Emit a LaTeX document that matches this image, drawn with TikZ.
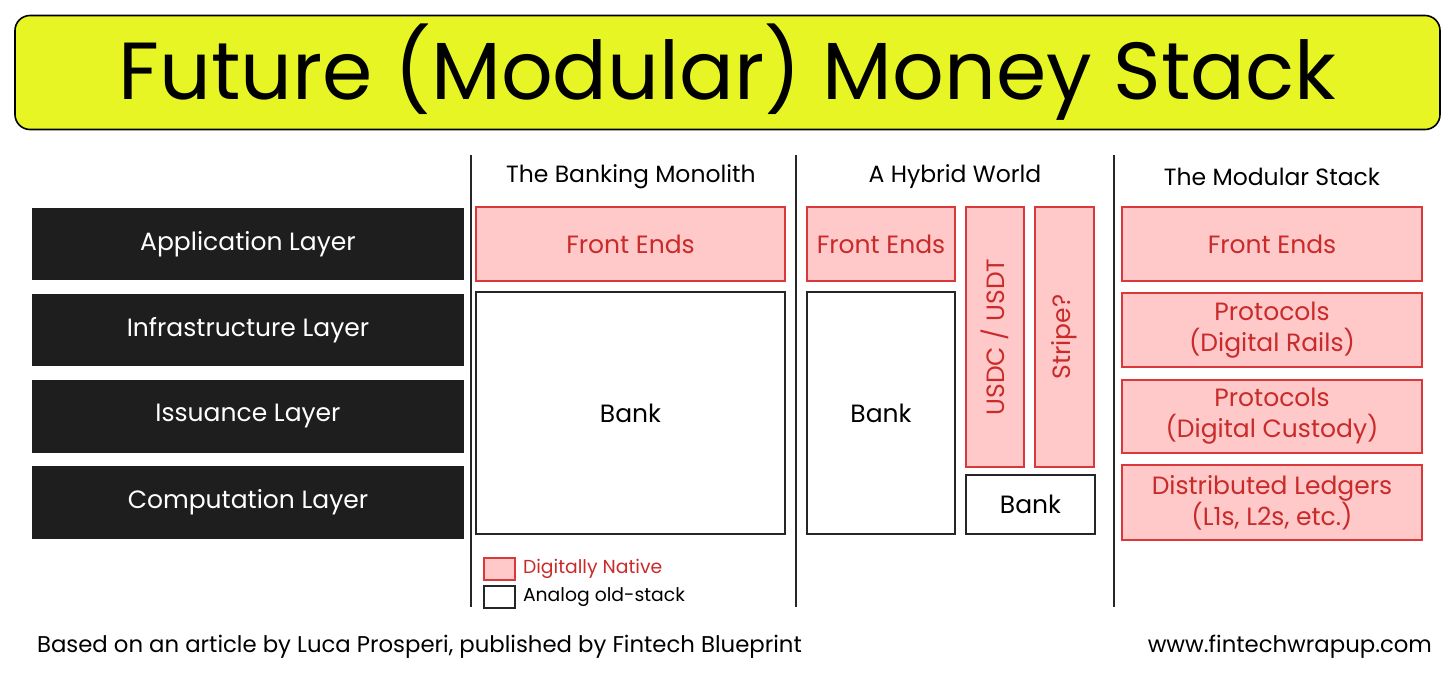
\documentclass[tikz,border=0pt]{standalone}
\usepackage{fontspec}
\setmainfont{Poppins}
\usetikzlibrary{positioning}
\definecolor{titleyel}{HTML}{E6F523}
\definecolor{digfill}{HTML}{FFC9C9}
\definecolor{digline}{HTML}{D9393B}
\definecolor{digtext}{HTML}{C92A2A}
\definecolor{layblack}{HTML}{1E1E1E}

\begin{document}
\begin{tikzpicture}[x=1pt, y=-1pt, line width=1.4pt,
  txt/.style={font=\fontsize{25}{31}\selectfont},
  box/.style={draw=black!85, align=center, inner sep=2pt, txt},
  dig/.style={box, draw=digline, fill=digfill, text=digtext},
  ana/.style={box, draw=black!85, fill=white, text=black},
  lay/.style={box, draw=layblack, fill=layblack, text=white,
              minimum width=430pt, minimum height=71pt},
  hd/.style={font=\fontsize{23.5}{28}\selectfont},
  key/.style={font=\fontsize{18.8}{22}\selectfont, anchor=west},
  foot/.style={font=\fontsize{22.8}{27}\selectfont},
  sep/.style={draw=black!85, line width=1.6pt}]
\useasboundingbox (0,0) rectangle (1456,678);
% title
\node[draw=black, line width=1.6pt, fill=titleyel, rounded corners=15pt,
      minimum width=1425pt, minimum height=114pt,
      font=\fontsize{81}{88}\selectfont] (title) at (727.5,72.5) {Future (Modular) Money Stack};
% layers
\node[lay] (app) at (248,244) {Application Layer};
\node[lay] (infra) at (248,330) {Infrastructure Layer};
\node[lay] (iss) at (248,416.5) {Issuance Layer};
\node[lay] (comp) at (248,502.5) {Computation Layer};
% separators
\coordinate (s1t) at (471,155); \coordinate (s1b) at (471,607);
\coordinate (s2t) at (796,155); \coordinate (s2b) at (796,607);
\coordinate (s3t) at (1114,155); \coordinate (s3b) at (1114,607);
\draw[sep] (s1t) -- (s1b); \draw[sep] (s2t) -- (s2b); \draw[sep] (s3t) -- (s3b);
% (a) banking monolith
\node[hd] (hmono) at (631,177) {The Banking Monolith};
\node[dig, minimum width=309pt, minimum height=74pt] (mfront) at (630.5,244) {Front Ends};
\node[ana, minimum width=309pt, minimum height=242pt] (mbank) at (630.5,413) {Bank};
% (b) hybrid world
\node[hd] (hhyb) at (955,177) {A Hybrid World};
\node[dig, minimum width=148pt, minimum height=74pt] (hfront) at (881,244) {Front Ends};
\node[ana, minimum width=148pt, minimum height=242pt] (hbank) at (881,413) {Bank};
\node[dig, minimum width=58pt, minimum height=260pt] (usdc) at (995,337) {};
\node[txt, text=digtext, rotate=90] at (usdc) {USDC / USDT};
\node[dig, minimum width=59pt, minimum height=260pt] (stripe) at (1064.5,337) {};
\node[txt, text=digtext, rotate=90] at (stripe) {Stripe?};
\node[ana, minimum width=129pt, minimum height=59pt] (sbank) at (1030.5,504.5) {Bank};
% (c) modular stack
\node[hd] (hmod) at (1272,177) {The Modular Stack};
\node[dig, minimum width=300pt, minimum height=74pt] (front) at (1272,244) {Front Ends};
\node[dig, minimum width=300pt, minimum height=74pt] (rails) at (1272,330) {Protocols\\(Digital Rails)};
\node[dig, minimum width=300pt, minimum height=73pt] (cust) at (1272,416.5) {Protocols\\(Digital Custody)};
\node[dig, minimum width=300pt, minimum height=75pt] (ledg) at (1272,502.5) {Distributed Ledgers\\(L1s, L2s, etc.)};
% legend
\node[dig, minimum width=31pt, minimum height=22pt] (kdig) at (499.5,569) {};
\node[ana, minimum width=31pt, minimum height=22pt] (kana) at (499.5,597) {};
\node[key, text=digtext] (ldig) at (519,569) {Digitally Native};
\node[key] (lana) at (519,597) {Analog old-stack};
% footer
\node[foot, anchor=west] (src) at (33,647) {Based on an article by Luca Prosperi, published by Fintech Blueprint};
\node[foot, anchor=east] (url) at (1436,647) {www.fintechwrapup.com};
\end{tikzpicture}
\end{document}
